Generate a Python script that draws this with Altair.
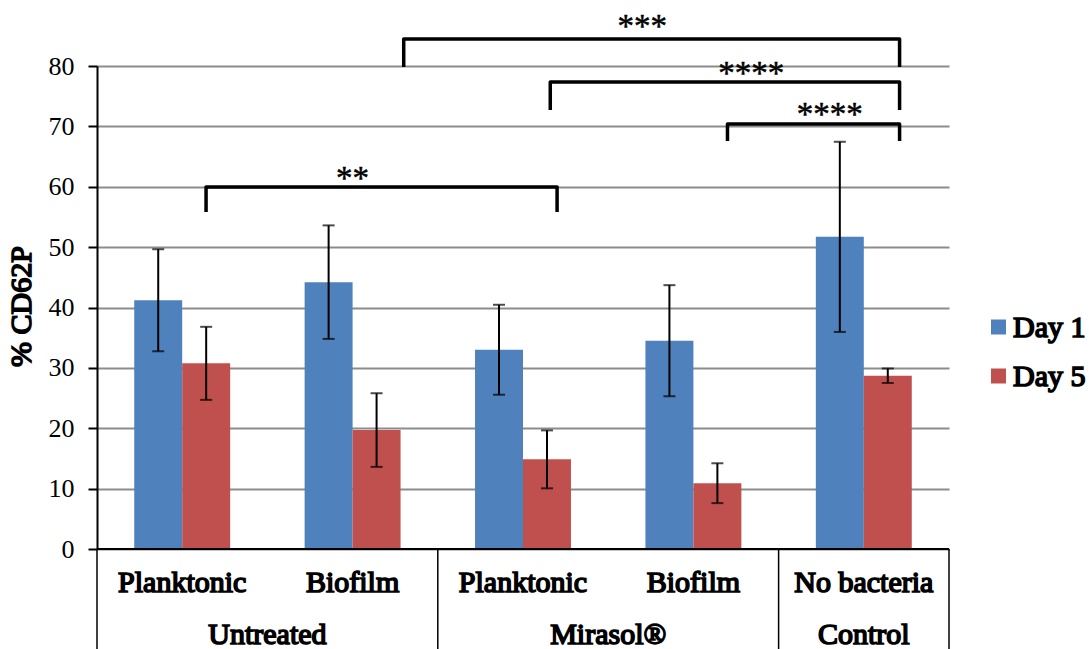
import altair as alt
import pandas as pd

# --- data -------------------------------------------------------------
groups = ["Untreated", "Untreated", "Mirasol®", "Mirasol®", "Control"]
subgroups = ["Planktonic", "Biofilm", "Planktonic", "Biofilm", "No bacteria"]
days = ["Day 1", "Day 5"]
day1 = [41.2, 44.2, 33.0, 34.5, 51.7]
day1_sd = [8.45, 9.4, 7.45, 9.2, 15.75]
day5 = [30.75, 19.7, 14.85, 10.9, 28.7]
day5_sd = [6.05, 6.1, 4.8, 3.3, 1.2]

# treatment groups on a 0..5 slot axis (one slot per sample type)
group_names = ["Untreated", "Mirasol®", "Control"]
group_centers = [1.0, 3.0, 4.5]
group_edges = [0, 2, 4, 5]

# significance brackets: slot positions of the legs, heights in % units
sig_labels = ["**", "***", "****", "****"]
sig_left = [0.64, 1.80, 2.66, 3.70]
sig_right = [2.70, 4.71, 4.71, 4.71]
sig_top = [59.96, 84.47, 77.35, 70.39]
sig_foot = [55.82, 79.83, 72.71, 67.58]
sig_text_x = [1.50, 3.20, 3.84, 4.30]
sig_text_y = [61.3, 86.5, 78.7, 71.9]

# --- tables -----------------------------------------------------------
cats = [f"{g} / {s}" for g, s in zip(groups, subgroups)]
rows = []
for c, m1, s1, m5, s5 in zip(cats, day1, day1_sd, day5, day5_sd):
    rows.append({"cat": c, "day": "Day 1", "value": m1, "lo": m1 - s1, "hi": m1 + s1})
    rows.append({"cat": c, "day": "Day 5", "value": m5, "lo": m5 - s5, "hi": m5 + s5})
bars_df = pd.DataFrame(rows)
labels_df = pd.DataFrame({"cat": cats, "sub": subgroups})

bracket_rows = []
for i, (l, r, t, f) in enumerate(zip(sig_left, sig_right, sig_top, sig_foot)):
    for k, (bx, by) in enumerate([(l, f), (l, t), (r, t), (r, f)]):
        bracket_rows.append({"b": i, "k": k, "bx": bx, "by": by})
bracket_df = pd.DataFrame(bracket_rows)
stars_df = pd.DataFrame({"sx": sig_text_x, "sy": sig_text_y, "txt": sig_labels})
groups_df = pd.DataFrame({"gx": group_centers, "name": group_names})
edges_df = pd.DataFrame({"ex": group_edges})
base_df = pd.DataFrame({"x0": [0], "x1": [5], "y0": [0]})

W, H = 852, 483
BLUE, RED = "#4F81BD", "#C0504D"
COLORS = [BLUE, RED]
SERIF = "Liberation Serif"
YT = "% CD62P"
# heavy serif lettering: regular face with an outline stroke
HEAVY = dict(font=SERIF, fontWeight="normal", color="black", stroke="black",
             strokeWidth=1.6, baseline="middle")

y_scale = alt.Scale(domain=[0, 80], nice=False, zero=True)
x_cat = alt.X("cat:N", sort=cats,
              scale=alt.Scale(paddingInner=0.437, paddingOuter=0.2185), axis=None)
x_off = alt.XOffset("day:N", sort=days,
                    scale=alt.Scale(domain=days, paddingInner=0, paddingOuter=0))

bars = alt.Chart(bars_df).mark_bar().encode(
    x=x_cat,
    xOffset=x_off,
    y=alt.Y("value:Q", scale=y_scale, title=None,
            axis=alt.Axis(values=list(range(0, 81, 10)))),
    color=alt.Color("day:N", scale=alt.Scale(domain=days, range=COLORS), legend=None),
)

err = alt.Chart(bars_df).mark_rule(color="black", strokeWidth=2).encode(
    x=x_cat, xOffset=x_off,
    y=alt.Y("lo:Q", scale=y_scale, title=None), y2="hi:Q",
)
cap_lo = alt.Chart(bars_df).mark_tick(color="black", size=12, thickness=2,
                                      orient="horizontal").encode(
    x=x_cat, xOffset=x_off, y=alt.Y("lo:Q", scale=y_scale, title=None))
cap_hi = alt.Chart(bars_df).mark_tick(color="black", size=12, thickness=2,
                                      orient="horizontal").encode(
    x=x_cat, xOffset=x_off, y=alt.Y("hi:Q", scale=y_scale, title=None))

sub_text = alt.Chart(labels_df).mark_text(fontSize=30, **HEAVY).encode(
    x=x_cat, y=alt.value(517), text="sub:N")

band_layers = alt.layer(bars, err, cap_lo, cap_hi, sub_text)

slot = alt.Scale(domain=[0, 5], nice=False, zero=False)

brackets = alt.Chart(bracket_df).mark_line(
    color="black", strokeWidth=3.5, strokeJoin="round", strokeCap="butt"
).encode(
    x=alt.X("bx:Q", scale=slot, axis=None),
    y=alt.Y("by:Q", scale=y_scale, title=None),
    detail="b:N",
    order="k:Q",
)
stars = alt.Chart(stars_df).mark_text(
    font=SERIF, fontSize=33, color="black", stroke="black", strokeWidth=0.5,
    baseline="middle"
).encode(
    x=alt.X("sx:Q", scale=slot, axis=None),
    y=alt.Y("sy:Q", scale=y_scale, title=None),
    text="txt:N",
)
group_text = alt.Chart(groups_df).mark_text(fontSize=30, **HEAVY).encode(
    x=alt.X("gx:Q", scale=slot, axis=None),
    y=alt.value(569),
    text="name:N",
)
edges = alt.Chart(edges_df).mark_rule(color="black", strokeWidth=1.5).encode(
    x=alt.X("ex:Q", scale=slot, axis=None),
    y=alt.value(H),
    y2=alt.value(H + 100),
)
baseline = alt.Chart(base_df).mark_rule(color="black", strokeWidth=2).encode(
    x=alt.X("x0:Q", scale=slot, axis=None),
    x2="x1:Q",
    y=alt.Y("y0:Q", scale=y_scale, title=None),
)

# y-axis title, drawn as rotated text left of the tick labels
y_title = alt.Chart(pd.DataFrame({"t": [YT]})).mark_text(
    fontSize=30, angle=270, align="center", **HEAVY
).encode(x=alt.value(-75), y=alt.value(H / 2 - 1), text="t:N")

# legend: colour swatches and day names at the right of the plot
legend_layers = []
for i, (d, c) in enumerate(zip(days, COLORS)):
    ldf = pd.DataFrame({"day": [d]})
    legend_layers.append(
        alt.Chart(ldf).mark_square(size=225, filled=True, color=c, opacity=1).encode(
            x=alt.value(901.5), y=alt.value(261 + 49 * i)))
    legend_layers.append(
        alt.Chart(ldf).mark_text(fontSize=30, align="left", **HEAVY).encode(
            x=alt.value(916), y=alt.value(262 + 49 * i), text="day:N"))

slot_layers = alt.layer(brackets, stars, group_text, edges, baseline, y_title,
                        *legend_layers)

chart = alt.layer(band_layers, slot_layers).resolve_scale(
    x="independent"
).properties(
    width=W,
    height=H,
    autosize=alt.AutoSizeParams(type="none"),
    padding={"left": 97, "top": 66, "right": 140, "bottom": 100},
).configure(
    font=SERIF,
).configure_view(
    stroke=None,
).configure_axisY(
    grid=True,
    gridColor="#8c8c8c",
    gridWidth=2,
    domainColor="black",
    domainWidth=2,
    tickColor="black",
    tickWidth=2,
    tickSize=9,
    labelFont=SERIF,
    labelFontSize=26,
    labelColor="black",
    labelPadding=14,
)

chart.save("out.html", embed_options={"renderer": "svg", "actions": False})
